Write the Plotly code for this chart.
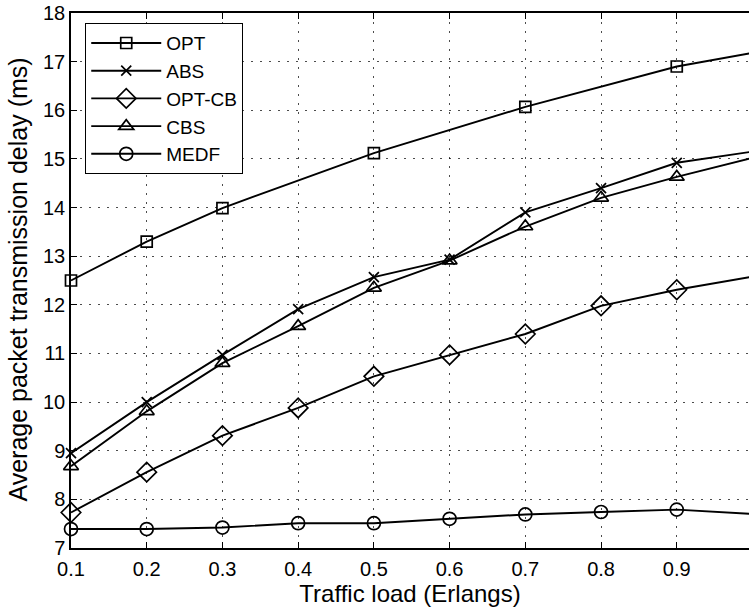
import plotly.graph_objects as go

load_all = [0.1, 0.2, 0.3, 0.4, 0.5, 0.6, 0.7, 0.8, 0.9, 1.0]
load_opt = [0.1, 0.2, 0.3, 0.5, 0.7, 0.9, 1.0]

opt = [12.5, 13.3, 13.99, 15.12, 16.07, 16.9, 17.18]
abs_ = [8.95, 10.0, 10.97, 11.91, 12.57, 12.93, 13.9, 14.4, 14.92, 15.15]
opt_cb = [7.73, 8.56, 9.31, 9.88, 10.53, 10.97, 11.4, 11.98, 12.31, 12.58]
cbs = [8.68, 9.81, 10.8, 11.56, 12.35, 12.91, 13.61, 14.2, 14.63, 15.02]
medf = [7.39, 7.39, 7.42, 7.51, 7.51, 7.6, 7.69, 7.74, 7.79, 7.7]

x_ticks = [0.1, 0.2, 0.3, 0.4, 0.5, 0.6, 0.7, 0.8, 0.9, 1.0]
x_tick_text = ["0.1", "0.2", "0.3", "0.4", "0.5", "0.6", "0.7", "0.8", "0.9", "1"]
y_ticks = list(range(7, 19))

FONT = "Liberation Sans, Arial, sans-serif"

fig = go.Figure()

def add(name, x, y, symbol, size):
    fig.add_trace(go.Scatter(
        x=x, y=y, name=name, mode="lines+markers",
        line=dict(color="black", width=1.9),
        marker=dict(symbol=symbol, size=size, color="black",
                    line=dict(color="black", width=1.7)),
        cliponaxis=False,
    ))

add("OPT", load_opt, opt, "square-open", 11)
add("ABS", load_all, abs_, "x-thin-open", 10)
add("OPT-CB", load_all, opt_cb, "diamond-open", 15)
add("CBS", load_all, cbs, "triangle-up-open", 13)
add("MEDF", load_all, medf, "circle-open", 13)

fig.update_layout(
    width=749, height=611,
    margin=dict(l=71, r=0, t=13, b=63),
    paper_bgcolor="white", plot_bgcolor="white",
    font=dict(family=FONT, color="black", size=20),
    showlegend=True,
    legend=dict(
        x=0.021, y=0.981, xanchor="left", yanchor="top",
        bgcolor="white", bordercolor="black", borderwidth=1,
        font=dict(size=19, family=FONT), itemwidth=70,
        tracegroupgap=0,
    ),
    annotations=[dict(
        text="Average packet transmission delay (ms)",
        xref="paper", yref="paper", x=-0.078, y=0.502,
        xanchor="center", yanchor="middle", textangle=-90,
        showarrow=False, font=dict(size=25, family=FONT, color="black"),
    )],
)

fig.update_xaxes(
    range=[0.1, 0.9954], tickvals=x_ticks, ticktext=x_tick_text,
    ticks="inside", ticklen=6, tickcolor="black", tickwidth=1,
    showline=True, linecolor="black", linewidth=1.5, mirror="allticks",
    showgrid=True, gridcolor="rgba(0,0,0,0.7)", gridwidth=1, griddash="2px,7px",
    zeroline=False,
    tickfont=dict(size=20, family=FONT), ticklabelstandoff=2,
    title=dict(text="Traffic load (Erlangs)", font=dict(size=24, family=FONT), standoff=4),
)
fig.update_yaxes(
    range=[7, 18], tickvals=y_ticks,
    ticks="inside", ticklen=6, tickcolor="black", tickwidth=1,
    showline=True, linecolor="black", linewidth=1.5,
    showgrid=True, gridcolor="rgba(0,0,0,0.7)", gridwidth=1, griddash="2px,7px",
    zeroline=False,
    tickfont=dict(size=20, family=FONT),
)

fig.write_html("out.html")
